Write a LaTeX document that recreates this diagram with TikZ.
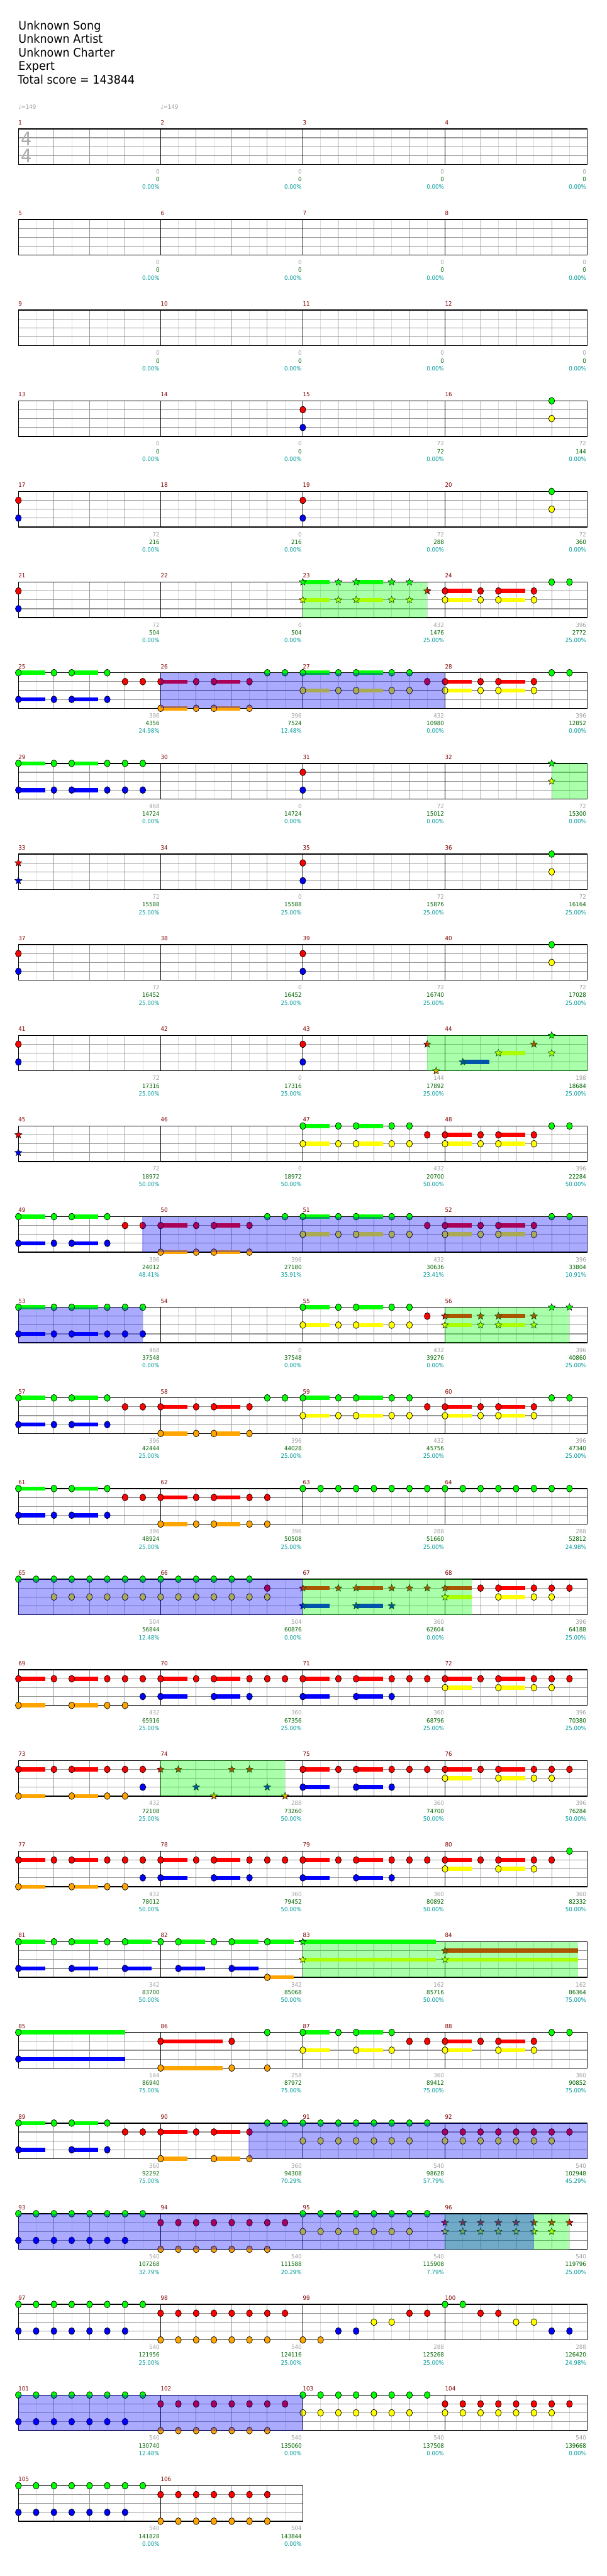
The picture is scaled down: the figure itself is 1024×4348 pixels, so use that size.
\documentclass[tikz,border=0pt]{standalone}
\usepackage{fontspec}
\setmainfont{DejaVu Sans}
\newfontfamily\numfont[FakeStretch=0.92]{DejaVu Sans}
\newfontfamily\titlefont[FakeStretch=0.93]{DejaVu Sans}
\usetikzlibrary{shapes.geometric}

\definecolor{laneG}{RGB}{0,255,0}
\definecolor{laneR}{RGB}{255,0,0}
\definecolor{laneY}{RGB}{255,255,0}
\definecolor{laneB}{RGB}{0,0,255}
\definecolor{laneO}{RGB}{255,165,0}
\definecolor{barred}{RGB}{128,0,0}
\definecolor{tickgray}{RGB}{160,160,160}
\definecolor{beatgray}{RGB}{150,150,150}
\definecolor{halfgray}{RGB}{221,221,221}
\definecolor{tsgray}{RGB}{170,170,170}
\definecolor{scoregreen}{RGB}{0,100,0}
\definecolor{pctteal}{RGB}{0,153,153}

% lane offsets below the staff top
\def\yG{0}\def\yR{15}\def\yY{30}\def\yB{45}\def\yO{60}

\tikzset{
  barlabel/.style={anchor=base west, inner sep=0pt, text=barred, font=\numfont\fontsize{7.5}{9}\selectfont},
  subtotal/.style={anchor=base east, inner sep=0pt, font=\numfont\fontsize{7.5}{9}\selectfont},
  notehead/.style={draw=black, line width=0.55pt},
  starhead/.style={star, star points=5, star point ratio=2.3, minimum size=9.4pt, inner sep=0pt, draw=black, line width=0.45pt},
  spzone/.style={fill=laneG, fill opacity=0.333},
  odzone/.style={fill=laneB, fill opacity=0.333},
  titleline/.style={anchor=base west, inner sep=0pt, font=\titlefont\fontsize{15}{17}\selectfont},
}

% one staff row: row, measures, first bar number
\newcommand\chartrow[3]{%
  \pgfmathsetmacro\rt{217.5+(#1-1)*153}%
  \pgfmathtruncatemacro\neighth{8*#2-1}%
  \pgfmathtruncatemacro\nbeat{4*#2-1}%
  \pgfmathtruncatemacro\nbar{#2-1}%
  \foreach \i in {1,...,\neighth} \draw[halfgray, line width=0.75pt] (31+30*\i,\rt) -- ++(0,60);
  \foreach \i in {1,...,\nbeat} \draw[beatgray, line width=0.75pt] (31+60*\i,\rt) -- ++(0,60);
  \foreach \j in {1,2,3} \draw[beatgray, line width=0.9pt] (31,\rt+15*\j) -- ++(240*#2,0);
  \foreach \i in {1,...,\nbar} \draw[black, line width=0.75pt] (31+240*\i,\rt) -- ++(0,60);
  \draw[black, line width=1.1pt] (31,\rt) rectangle ++(240*#2,60);
  \foreach \i [evaluate=\i as \n using int(#3+\i)] in {0,...,\nbar}
    \node[barlabel] at (31+240*\i,\rt-7) {\n};
}
\newcommand\taps[2]{\edef\ly{\csname y#1\endcsname}%
  \foreach \k in {#2}
    \draw[notehead, fill=lane#1] (31+30*\k,\rt+\ly) ellipse [x radius=5, y radius=5.8];}
\newcommand\holds[2]{\edef\ly{\csname y#1\endcsname}%
  \foreach \k/\dur in {#2} {
    \fill[lane#1] (31+30*\k,\rt+\ly-3.5) rectangle ++(30*\dur,7);
    \draw[notehead, fill=lane#1] (31+30*\k,\rt+\ly) ellipse [x radius=5, y radius=5.8];}}
\newcommand\stars[2]{\edef\ly{\csname y#1\endcsname}%
  \foreach \k in {#2} \node[starhead, fill=lane#1] at (31+30*\k,\rt+\ly) {};}
\newcommand\starholds[2]{\edef\ly{\csname y#1\endcsname}%
  \foreach \k/\dur in {#2} {
    \fill[lane#1] (31+30*\k,\rt+\ly-3.5) rectangle ++(30*\dur,7);
    \node[starhead, fill=lane#1] at (31+30*\k,\rt+\ly) {};}}
\newcommand\spz[2]{\fill[spzone] (31+30*#1,\rt) rectangle (31+30*#2,\rt+60);}
\newcommand\odz[2]{\fill[odzone] (31+30*#1,\rt) rectangle (31+30*#2,\rt+60);}
\newcommand\scores[1]{%
  \foreach \g/\s/\p [count=\c] in {#1} {
    \node[subtotal, text=tickgray] at (31+240*\c-1.5,\rt+76) {\g};
    \node[subtotal, text=scoregreen] at (31+240*\c-1.5,\rt+89) {\s};
    \node[subtotal, text=pctteal] at (31+240*\c-1.5,\rt+102) {\p\%};}}

\begin{document}
\begin{tikzpicture}[x=0.75pt,y=-0.75pt]
\useasboundingbox[fill=white] (0,0) rectangle (1024,4348);

% header
\node[titleline] (song) at (31,50) {Unknown Song};
\node[titleline] (artist) at (31,72.7) {Unknown Artist};
\node[titleline] (charter) at (31,96) {Unknown Charter};
\node[titleline] (level) at (31,118.7) {Expert};
\node[titleline] (total) at (29.5,141.7) {Total score = 143844};
\node[anchor=base west, inner sep=0pt, text=tickgray, font=\numfont\fontsize{7.5}{9}\selectfont] (bpm1) at (31,184) {♩=149};
\node[anchor=base west, inner sep=0pt, text=tickgray, font=\numfont\fontsize{7.5}{9}\selectfont] (bpm2) at (271,184) {♩=149};

% rows 1-4
\chartrow{1}{4}{1}
\node[text=tsgray, inner sep=0pt, font=\numfont\fontsize{23.5}{24}\selectfont] (tsup) at (44.5,234) {4};
\node[text=tsgray, inner sep=0pt, font=\numfont\fontsize{23.5}{24}\selectfont] (tsdn) at (44.5,263) {4};
\scores{0/0/0.00,0/0/0.00,0/0/0.00,0/0/0.00}
\chartrow{2}{4}{5}
\scores{0/0/0.00,0/0/0.00,0/0/0.00,0/0/0.00}
\chartrow{3}{4}{9}
\scores{0/0/0.00,0/0/0.00,0/0/0.00,0/0/0.00}
\chartrow{4}{4}{13}
\taps{R}{16}\taps{B}{16}\taps{G}{30}\taps{Y}{30}
\scores{0/0/0.00,0/0/0.00,72/72/0.00,72/144/0.00}

% rows 5-8
\chartrow{5}{4}{17}
\taps{R}{0,16}\taps{B}{0,16}\taps{G}{30}\taps{Y}{30}
\scores{72/216/0.00,0/216/0.00,72/288/0.00,72/360/0.00}
\chartrow{6}{4}{21}
\taps{R}{0}\taps{B}{0}
\starholds{G}{16/1.5,19/1.5}\stars{G}{18,21,22}
\starholds{Y}{16/1.5,19/1.5}\stars{Y}{18,21,22}
\stars{R}{23}
\holds{R}{24/1.5,27/1.5}\taps{R}{26,29}
\holds{Y}{24/1.5,27/1.5}\taps{Y}{26,29}
\taps{G}{30,31}
\spz{16}{23}
\scores{72/504/0.00,0/504/0.00,432/1476/25.00,396/2772/25.00}
\chartrow{7}{4}{25}
\holds{G}{0/1.5,3/1.5,16/1.5,19/1.5}\taps{G}{2,5,14,15,18,21,22,30,31}
\holds{R}{8/1.5,11/1.5,24/1.5,27/1.5}\taps{R}{6,7,10,13,23,26,29}
\holds{Y}{16/1.5,19/1.5,24/1.5,27/1.5}\taps{Y}{18,21,22,26,29}
\holds{B}{0/1.5,3/1.5}\taps{B}{2,5}
\holds{O}{8/1.5,11/1.5}\taps{O}{10,13}
\odz{8}{24}
\scores{396/4356/24.98,396/7524/12.48,432/10980/0.00,396/12852/0.00}
\chartrow{8}{4}{29}
\holds{G}{0/1.5,3/1.5}\taps{G}{2,5,6,7}
\holds{B}{0/1.5,3/1.5}\taps{B}{2,5,6,7}
\taps{R}{16}\taps{B}{16}
\stars{G}{30}\stars{Y}{30}
\spz{30}{32}
\scores{468/14724/0.00,0/14724/0.00,72/15012/0.00,72/15300/0.00}

% rows 9-12
\chartrow{9}{4}{33}
\stars{R}{0}\stars{B}{0}
\taps{R}{16}\taps{B}{16}\taps{G}{30}\taps{Y}{30}
\scores{72/15588/25.00,0/15588/25.00,72/15876/25.00,72/16164/25.00}
\chartrow{10}{4}{37}
\taps{R}{0,16}\taps{B}{0,16}\taps{G}{30}\taps{Y}{30}
\scores{72/16452/25.00,0/16452/25.00,72/16740/25.00,72/17028/25.00}
\chartrow{11}{4}{41}
\taps{R}{0,16}\taps{B}{0,16}
\stars{R}{23,29}\stars{O}{23.5}
\starholds{B}{25/1.5}\starholds{Y}{27/1.5}
\stars{G}{30}\stars{Y}{30}
\spz{23}{32}
\scores{72/17316/25.00,0/17316/25.00,144/17892/25.00,198/18684/25.00}
\chartrow{12}{4}{45}
\stars{R}{0}\stars{B}{0}
\holds{G}{16/1.5,19/1.5}\taps{G}{18,21,22,30,31}
\holds{Y}{16/1.5,19/1.5,24/1.5,27/1.5}\taps{Y}{18,21,22,26,29}
\holds{R}{24/1.5,27/1.5}\taps{R}{23,26,29}
\scores{72/18972/50.00,0/18972/50.00,432/20700/50.00,396/22284/50.00}

% rows 13-16
\chartrow{13}{4}{49}
\holds{G}{0/1.5,3/1.5,16/1.5,19/1.5}\taps{G}{2,5,14,15,18,21,22,30,31}
\holds{R}{8/1.5,11/1.5,24/1.5,27/1.5}\taps{R}{6,7,10,13,23,26,29}
\holds{Y}{16/1.5,19/1.5,24/1.5,27/1.5}\taps{Y}{18,21,22,26,29}
\holds{B}{0/1.5,3/1.5}\taps{B}{2,5}
\holds{O}{8/1.5,11/1.5}\taps{O}{10,13}
\odz{6.95}{32}
\scores{396/24012/48.41,396/27180/35.91,432/30636/23.41,396/33804/10.91}
\chartrow{14}{4}{53}
\holds{G}{0/1.5,3/1.5,16/1.5,19/1.5}\taps{G}{2,5,6,7,18,21,22}
\holds{B}{0/1.5,3/1.5}\taps{B}{2,5,6,7}
\holds{Y}{16/1.5,19/1.5}\taps{Y}{18,21,22}
\taps{R}{23}
\starholds{R}{24/1.5,27/1.5}\stars{R}{26,29}
\starholds{Y}{24/1.5,27/1.5}\stars{Y}{26,29}
\stars{G}{30,31}
\odz{0}{7}\spz{24}{31}
\scores{468/37548/0.00,0/37548/0.00,432/39276/0.00,396/40860/25.00}
\chartrow{15}{4}{57}
\holds{G}{0/1.5,3/1.5,16/1.5,19/1.5}\taps{G}{2,5,14,15,18,21,22,30,31}
\holds{R}{8/1.5,11/1.5,24/1.5,27/1.5}\taps{R}{6,7,10,13,23,26,29}
\holds{Y}{16/1.5,19/1.5,24/1.5,27/1.5}\taps{Y}{18,21,22,26,29}
\holds{B}{0/1.5,3/1.5}\taps{B}{2,5}
\holds{O}{8/1.5,11/1.5}\taps{O}{10,13}
\scores{396/42444/25.00,396/44028/25.00,432/45756/25.00,396/47340/25.00}
\chartrow{16}{4}{61}
\holds{G}{0/1.5,3/1.5}\taps{G}{2,5}\taps{G}{16,...,31}
\holds{B}{0/1.5,3/1.5}\taps{B}{2,5}
\holds{R}{8/1.5,11/1.5}\taps{R}{6,7,10,13,14}
\holds{O}{8/1.5,11/1.5}\taps{O}{10,13,14}
\scores{396/48924/25.00,396/50508/25.00,288/51660/25.00,288/52812/24.98}

% rows 17-20
\chartrow{17}{4}{65}
\taps{G}{0,...,13}\taps{Y}{2,...,14}\taps{R}{14}
\starholds{R}{16/1.5,19/1.5,24/1.5}\stars{R}{18,21,22,23}
\starholds{B}{16/1.5,19/1.5}\stars{B}{21}
\starholds{Y}{24/1.5}
\holds{R}{27/1.5}\taps{R}{26,29,30,31}
\holds{Y}{27/1.5}\taps{Y}{29,30}
\odz{0}{16}\spz{16}{25.5}
\scores{504/56844/12.48,504/60876/0.00,360/62604/0.00,396/64188/25.00}
\chartrow{18}{4}{69}
\holds{R}{0/1.5,3/1.5,8/1.5,11/1.5,16/1.5,19/1.5,24/1.5,27/1.5}
\taps{R}{2,5,6,7,10,13,14,15,18,21,22,23,26,29,30,31}
\holds{O}{0/1.5,3/1.5}\taps{O}{5,6}
\holds{B}{8/1.5,11/1.5,16/1.5,19/1.5}\taps{B}{7,13,21}
\holds{Y}{24/1.5,27/1.5}\taps{Y}{29,30}
\scores{432/65916/25.00,360/67356/25.00,360/68796/25.00,396/70380/25.00}
\chartrow{19}{4}{73}
\holds{R}{0/1.5,3/1.5,16/1.5,19/1.5,24/1.5,27/1.5}
\taps{R}{2,5,6,7,18,21,22,23,26,29,30,31}
\holds{O}{0/1.5,3/1.5}\taps{O}{5,6}
\holds{B}{16/1.5,19/1.5}\taps{B}{7,21}
\stars{R}{8,9,12,13}\stars{B}{10,14}\stars{O}{11,15}
\holds{Y}{24/1.5,27/1.5}\taps{Y}{29,30}
\spz{8}{15}
\scores{432/72108/25.00,288/73260/50.00,360/74700/50.00,396/76284/50.00}
\chartrow{20}{4}{77}
\holds{R}{0/1.5,3/1.5,8/1.5,11/1.5,16/1.5,19/1.5,24/1.5,27/1.5}
\taps{R}{2,5,6,7,10,13,14,15,18,21,22,23,26,29,30}
\taps{G}{31}
\holds{O}{0/1.5,3/1.5}\taps{O}{5,6}
\holds{B}{8/1.5,11/1.5,16/1.5,19/1.5}\taps{B}{7,13,21}
\holds{Y}{24/1.5,27/1.5}\taps{Y}{29}
\scores{432/78012/50.00,360/79452/50.00,360/80892/50.00,360/82332/50.00}

% rows 21-24
\chartrow{21}{4}{81}
\holds{G}{0/1.5,3/1.5,6/1.5,9/1.5,12/1.5,14/1.5}\taps{G}{2,5,8,11}
\holds{B}{0/1.5,3/1.5,6/1.5,9/1.5,12/1.5}
\holds{O}{14/1.5}
\starholds{G}{16/7.5}\starholds{Y}{16/7.5,24/7.5}\starholds{R}{24/7.5}
\spz{16}{31.5}
\scores{342/83700/50.00,342/85068/50.00,162/85716/50.00,162/86364/75.00}
\chartrow{22}{4}{85}
\holds{G}{0/6,16/1.5,19/1.5}\taps{G}{14,18,21,30,31}
\holds{B}{0/6}
\holds{R}{8/3.5,24/1.5,27/1.5}\taps{R}{12,22,23,26,29}
\holds{O}{8/3.5}\taps{O}{12,14}
\holds{Y}{16/1.5,19/1.5,24/1.5,27/1.5}\taps{Y}{21,29}
\scores{144/86940/75.00,258/87972/75.00,360/89412/75.00,360/90852/75.00}
\chartrow{23}{4}{89}
\holds{G}{0/1.5,3/1.5}\taps{G}{2,5}\taps{G}{14,...,23}
\holds{B}{0/1.5,3/1.5}\taps{B}{5}
\holds{R}{8/1.5,11/1.5}\taps{R}{6,7,10,13}\taps{R}{24,...,31}
\holds{O}{8/1.5,11/1.5}\taps{O}{13}
\taps{Y}{16,...,22}\taps{Y}{24,...,30}
\odz{12.95}{32}
\scores{360/92292/75.00,360/94308/70.29,540/98628/57.79,540/102948/45.29}
\chartrow{24}{4}{93}
\taps{G}{0,...,7}\taps{G}{16,...,23}\taps{B}{0,...,6}
\taps{R}{8,...,15}\taps{O}{8,...,14}\taps{Y}{16,...,22}
\stars{R}{24,...,31}\stars{Y}{24,...,30}
\spz{24}{31}\odz{0}{29}
\scores{540/107268/32.79,540/111588/20.29,540/115908/7.79,540/119796/25.00}

% rows 25-27
\chartrow{25}{4}{97}
\taps{G}{0,...,7}\taps{G}{24,25}\taps{B}{0,...,6}\taps{B}{18,19,30,31}
\taps{R}{8,...,15}\taps{R}{22,23,26,27}\taps{O}{8,...,14}\taps{O}{16,17}
\taps{Y}{20,21,28,29}
\scores{540/121956/25.00,540/124116/25.00,288/125268/25.00,288/126420/24.98}
\chartrow{26}{4}{101}
\taps{G}{0,...,7}\taps{G}{16,...,23}\taps{B}{0,...,6}
\taps{R}{8,...,15}\taps{R}{24,...,31}\taps{O}{8,...,14}
\taps{Y}{16,...,22}\taps{Y}{24,...,30}
\odz{0}{16}
\scores{540/130740/12.48,540/135060/0.00,540/137508/0.00,540/139668/0.00}
\chartrow{27}{2}{105}
\taps{G}{0,...,7}\taps{B}{0,...,6}\taps{R}{8,...,14}\taps{O}{8,...,14}
\scores{540/141828/0.00,504/143844/0.00}
\end{tikzpicture}
\end{document}
